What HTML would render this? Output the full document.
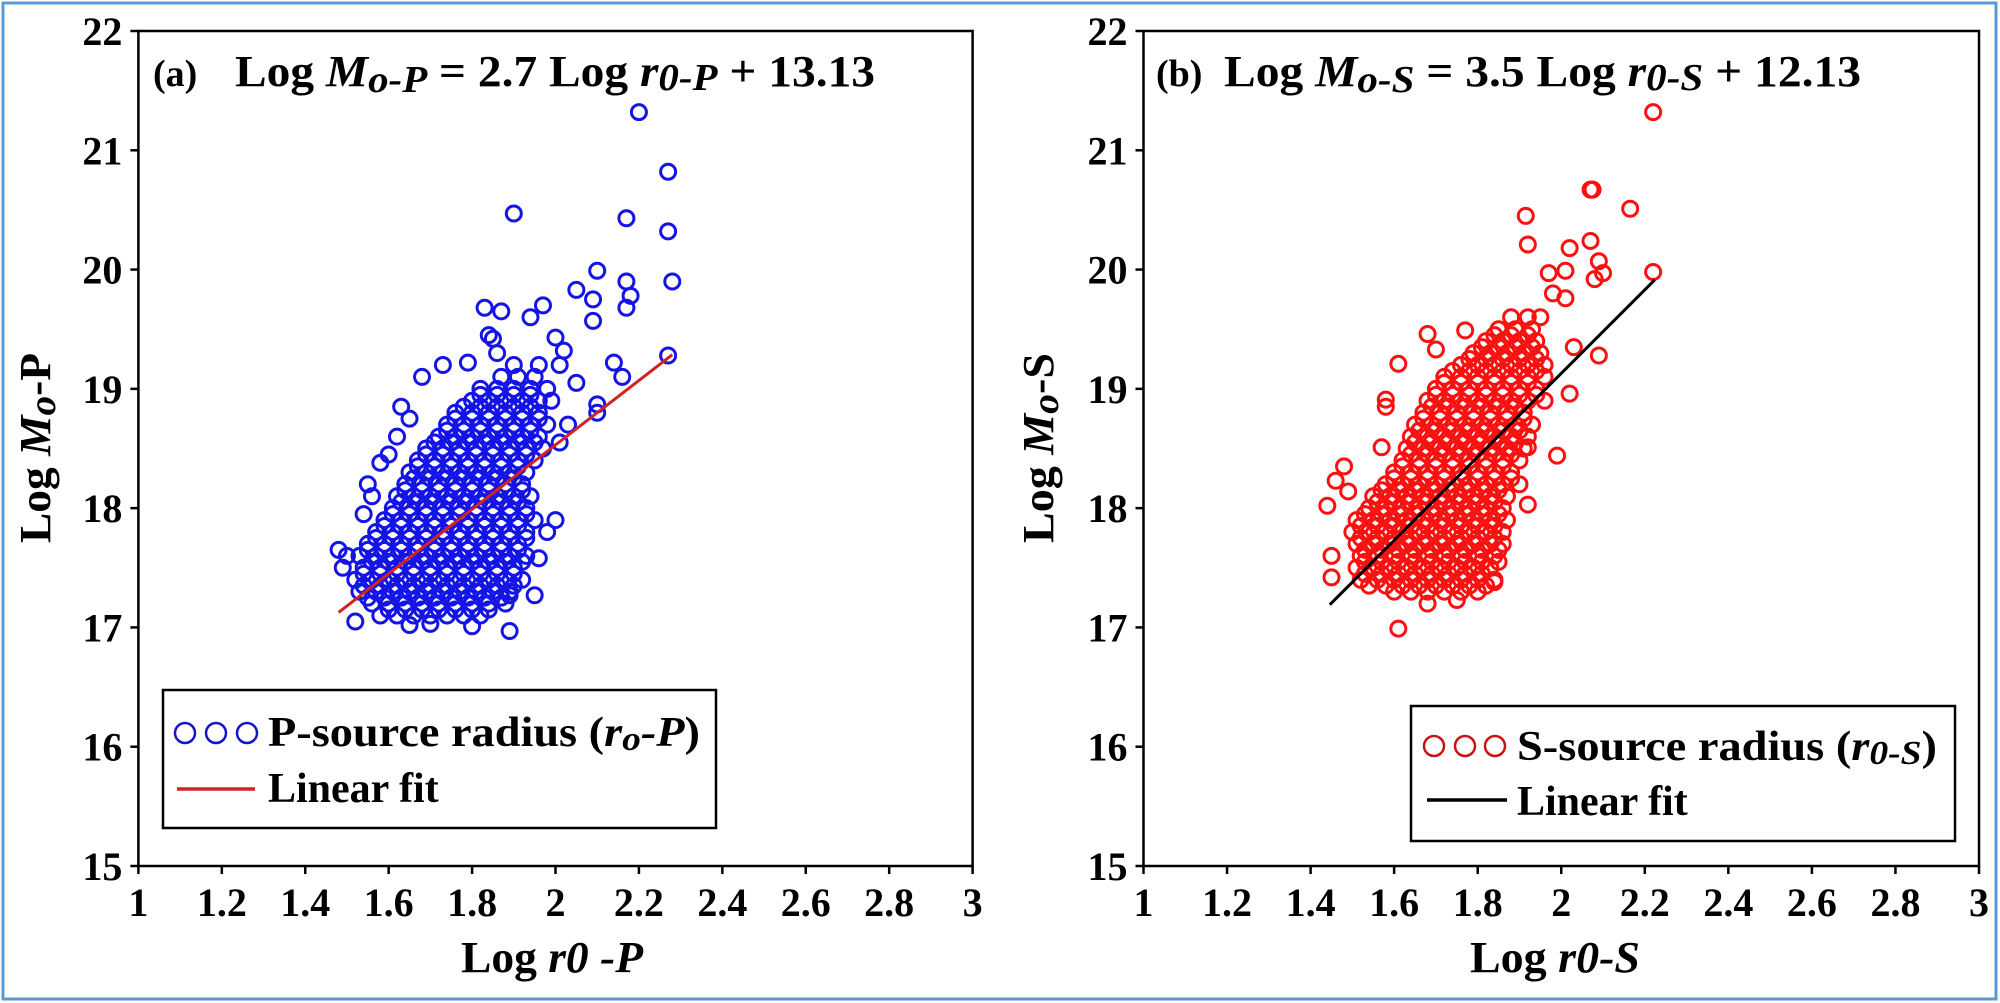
<!DOCTYPE html>
<html><head><meta charset="utf-8"><style>
html,body{margin:0;padding:0;background:#fff;}
svg{display:block;font-family:"Liberation Serif",serif;font-weight:bold;}
</style></head><body>
<svg id="chart" width="2000" height="1003" viewBox="0 0 2000 1003" xmlns="http://www.w3.org/2000/svg">
<rect x="3" y="3" width="1993" height="996" fill="none" stroke="#5b9bd5" stroke-width="3"/>
<g id="panelA"></g>
<g id="panelB"></g>
</svg>
<script>
const xTicks = [1,1.2,1.4,1.6,1.8,2,2.2,2.4,2.6,2.8,3];
const xTickLabels = ["1","1.2","1.4","1.6","1.8","2","2.2","2.4","2.6","2.8","3"];
const yTicks = [15,16,17,18,19,20,21,22];
const yTickLabels = ["15","16","17","18","19","20","21","22"];

// P-source dense core: [y, [x values]]
const coreP = [
[17.1,[1.58,1.62,1.66,1.70,1.74,1.78,1.82]],
[17.15,[1.60,1.64,1.68,1.72,1.76,1.80,1.84]],
[17.2,[1.56,1.60,1.64,1.68,1.72,1.76,1.80,1.84,1.88]],
[17.25,[1.55,1.59,1.63,1.67,1.71,1.75,1.79,1.83,1.87]],
[17.3,[1.53,1.57,1.61,1.65,1.69,1.73,1.77,1.81,1.85,1.89]],
[17.35,[1.54,1.58,1.62,1.66,1.70,1.74,1.78,1.82,1.86,1.90]],
[17.4,[1.52,1.56,1.60,1.64,1.68,1.72,1.76,1.80,1.84,1.88,1.92]],
[17.45,[1.54,1.58,1.62,1.66,1.70,1.74,1.78,1.82,1.86,1.90]],
[17.5,[1.54,1.58,1.62,1.66,1.70,1.74,1.78,1.82,1.86,1.90]],
[17.55,[1.56,1.60,1.64,1.68,1.72,1.76,1.80,1.84,1.88,1.92]],
[17.6,[1.53,1.57,1.61,1.65,1.69,1.73,1.77,1.81,1.85,1.89,1.93]],
[17.65,[1.55,1.59,1.63,1.67,1.71,1.75,1.79,1.83,1.87,1.91]],
[17.7,[1.55,1.59,1.63,1.67,1.71,1.75,1.79,1.83,1.87,1.91]],
[17.75,[1.57,1.61,1.65,1.69,1.73,1.77,1.81,1.85,1.89,1.93]],
[17.8,[1.57,1.61,1.65,1.69,1.73,1.77,1.81,1.85,1.89,1.93]],
[17.85,[1.59,1.63,1.67,1.71,1.75,1.79,1.83,1.87,1.91]],
[17.9,[1.59,1.63,1.67,1.71,1.75,1.79,1.83,1.87,1.91,1.95]],
[17.95,[1.61,1.65,1.69,1.73,1.77,1.81,1.85,1.89,1.93]],
[18.0,[1.61,1.65,1.69,1.73,1.77,1.81,1.85,1.89,1.93]],
[18.05,[1.63,1.67,1.71,1.75,1.79,1.83,1.87,1.91]],
[18.1,[1.62,1.66,1.70,1.74,1.78,1.82,1.86,1.90,1.94]],
[18.15,[1.64,1.68,1.72,1.76,1.80,1.84,1.88,1.92]],
[18.2,[1.64,1.68,1.72,1.76,1.80,1.84,1.88,1.92]],
[18.25,[1.66,1.70,1.74,1.78,1.82,1.86,1.90]],
[18.3,[1.65,1.69,1.73,1.77,1.81,1.85,1.89,1.93]],
[18.35,[1.67,1.71,1.75,1.79,1.83,1.87,1.91]],
[18.4,[1.67,1.71,1.75,1.79,1.83,1.87,1.91,1.95]],
[18.45,[1.69,1.73,1.77,1.81,1.85,1.89,1.93]],
[18.5,[1.69,1.73,1.77,1.81,1.85,1.89,1.93,1.97]],
[18.55,[1.71,1.75,1.79,1.83,1.87,1.91,1.95]],
[18.6,[1.72,1.76,1.80,1.84,1.88,1.92,1.96]],
[18.65,[1.74,1.78,1.82,1.86,1.90,1.94]],
[18.7,[1.74,1.78,1.82,1.86,1.90,1.94,1.98]],
[18.75,[1.76,1.80,1.84,1.88,1.92,1.96]],
[18.8,[1.76,1.80,1.84,1.88,1.92,1.96]],
[18.85,[1.78,1.82,1.86,1.90,1.94]],
[18.9,[1.80,1.84,1.88,1.92,1.96,1.99]],
[18.95,[1.82,1.86,1.90,1.94]],
[19.0,[1.82,1.86,1.90,1.94,1.98]],
[19.1,[1.87,1.91,1.95]],
[19.2,[1.90,1.96,2.01]]
];
const outlierPX = [2.20,2.27,1.90,2.17,2.27,2.10,2.17,2.28,2.18,2.17,2.09,2.05,2.09,2.27,2.14,2.16,2.10,2.10,1.97,1.94,1.83,1.87,1.84,1.85,1.86,2.00,2.02,1.79,1.73,1.68,1.63,1.65,1.62,1.58,1.54,1.56,1.48,1.49,1.50,1.52,1.65,1.70,1.80,1.89,2.00,1.98,1.96,1.95,1.89,2.03,2.05,2.01,1.60,1.55];
const outlierPY = [21.32,20.82,20.47,20.43,20.32,19.99,19.90,19.90,19.78,19.68,19.75,19.83,19.57,19.28,19.22,19.10,18.87,18.80,19.70,19.60,19.68,19.65,19.45,19.42,19.30,19.43,19.32,19.22,19.20,19.10,18.85,18.75,18.60,18.38,17.95,18.10,17.65,17.50,17.60,17.05,17.02,17.03,17.01,16.97,17.90,17.80,17.58,17.27,17.27,18.70,19.05,18.55,18.45,18.20];

// S-source dense core
const coreS = [
[17.3,[1.60,1.64,1.68,1.72,1.76,1.80]],
[17.35,[1.54,1.58,1.62,1.66,1.70,1.74,1.78,1.82]],
[17.4,[1.52,1.56,1.60,1.64,1.68,1.72,1.76,1.80,1.84]],
[17.45,[1.53,1.57,1.61,1.65,1.69,1.73,1.77,1.81]],
[17.5,[1.51,1.55,1.59,1.63,1.67,1.71,1.75,1.79,1.83]],
[17.55,[1.53,1.57,1.61,1.65,1.69,1.73,1.77,1.81,1.85]],
[17.6,[1.52,1.56,1.60,1.64,1.68,1.72,1.76,1.80,1.84]],
[17.65,[1.53,1.57,1.61,1.65,1.69,1.73,1.77,1.81,1.85]],
[17.7,[1.51,1.55,1.59,1.63,1.67,1.71,1.75,1.79,1.83,1.86]],
[17.75,[1.52,1.56,1.60,1.64,1.68,1.72,1.76,1.80,1.84]],
[17.8,[1.50,1.54,1.58,1.62,1.66,1.70,1.74,1.78,1.82,1.86]],
[17.85,[1.52,1.56,1.60,1.64,1.68,1.72,1.76,1.80,1.84]],
[17.9,[1.51,1.55,1.59,1.63,1.67,1.71,1.75,1.79,1.83,1.87]],
[17.95,[1.53,1.57,1.61,1.65,1.69,1.73,1.77,1.81,1.85]],
[18.0,[1.54,1.58,1.62,1.66,1.70,1.74,1.78,1.82,1.86]],
[18.05,[1.56,1.60,1.64,1.68,1.72,1.76,1.80,1.84]],
[18.1,[1.55,1.59,1.63,1.67,1.71,1.75,1.79,1.83,1.87]],
[18.15,[1.57,1.61,1.65,1.69,1.73,1.77,1.81,1.85]],
[18.2,[1.58,1.62,1.66,1.70,1.74,1.78,1.82,1.86,1.90]],
[18.25,[1.60,1.64,1.68,1.72,1.76,1.80,1.84,1.88]],
[18.3,[1.60,1.64,1.68,1.72,1.76,1.80,1.84,1.88]],
[18.35,[1.62,1.66,1.70,1.74,1.78,1.82,1.86]],
[18.4,[1.62,1.66,1.70,1.74,1.78,1.82,1.86,1.90]],
[18.45,[1.64,1.68,1.72,1.76,1.80,1.84,1.88]],
[18.5,[1.63,1.67,1.71,1.75,1.79,1.83,1.87,1.91]],
[18.55,[1.65,1.69,1.73,1.77,1.81,1.85,1.89]],
[18.6,[1.64,1.68,1.72,1.76,1.80,1.84,1.88,1.92]],
[18.65,[1.66,1.70,1.74,1.78,1.82,1.86,1.90]],
[18.7,[1.65,1.69,1.73,1.77,1.81,1.85,1.89,1.93]],
[18.75,[1.67,1.71,1.75,1.79,1.83,1.87,1.91]],
[18.8,[1.67,1.71,1.75,1.79,1.83,1.87,1.91]],
[18.85,[1.69,1.73,1.77,1.81,1.85,1.89]],
[18.9,[1.68,1.72,1.76,1.80,1.84,1.88,1.92,1.96]],
[18.95,[1.70,1.74,1.78,1.82,1.86,1.90,1.94]],
[19.0,[1.70,1.74,1.78,1.82,1.86,1.90,1.94]],
[19.05,[1.72,1.76,1.80,1.84,1.88,1.92]],
[19.1,[1.72,1.76,1.80,1.84,1.88,1.92,1.96]],
[19.15,[1.74,1.78,1.82,1.86,1.90,1.94]],
[19.2,[1.76,1.80,1.84,1.88,1.92,1.96]],
[19.25,[1.78,1.82,1.86,1.90,1.94]],
[19.3,[1.79,1.83,1.87,1.91,1.95]],
[19.35,[1.81,1.85,1.89,1.93]],
[19.4,[1.82,1.86,1.90,1.94]],
[19.45,[1.84,1.88,1.92]],
[19.5,[1.85,1.89,1.93]],
[19.6,[1.88,1.92]]
];
const outlierSX = [2.22,2.07,2.075,2.165,1.915,1.92,2.07,2.02,2.22,2.09,2.10,2.08,1.97,2.01,2.01,2.09,2.02,1.99,1.92,1.92,1.44,1.46,1.48,1.61,1.68,1.77,1.70,1.58,1.58,1.57,1.61,1.68,1.75,1.84,1.45,1.45,1.49,2.03,1.98,1.95];
const outlierSY = [21.32,20.67,20.67,20.51,20.45,20.21,20.24,20.18,19.98,20.07,19.97,19.92,19.97,19.99,19.76,19.28,18.96,18.44,18.51,18.03,18.02,18.23,18.35,19.21,19.46,19.49,19.33,18.91,18.85,18.51,16.99,17.20,17.23,17.38,17.42,17.60,18.14,19.35,19.80,19.60];

const fitPX = [1.48,2.28]; const fitPSlope = 2.7; const fitPIntercept = 13.13;
const fitSX = [1.446,2.224]; const fitSSlope = 3.5; const fitSIntercept = 12.13;

const NS = "http://www.w3.org/2000/svg";
function mk(tag, parent, attrs){
  const e = document.createElementNS(NS, tag);
  for (const k in attrs) e.setAttribute(k, attrs[k]);
  parent.appendChild(e);
  return e;
}

function drawPanel(g, cfg){
  const x0 = cfg.left, x1 = cfg.right, yTop = 31, yBot = 866;
  const sx = v => x0 + (v - 1) / 2 * (x1 - x0);
  const sy = v => yBot - (v - 15) / 7 * (yBot - yTop);

  const pts = mk('g', g, {});
  
  
  const addPt = (x, y) => {
    const c = mk('circle', pts, {cx: sx(x), cy: sy(y), r: 7.5, fill: 'none', stroke: cfg.color, 'stroke-width': 3});
    
    
  };
  cfg.core.forEach(row => row[1].forEach(x => addPt(x, row[0])));
  cfg.ox.forEach((x, i) => addPt(x, cfg.oy[i]));

  const fl = mk('line', g, {x1: sx(cfg.fitX[0]), y1: sy(cfg.slope*cfg.fitX[0]+cfg.intercept),
    x2: sx(cfg.fitX[1]), y2: sy(cfg.slope*cfg.fitX[1]+cfg.intercept), stroke: cfg.fitColor, 'stroke-width': 3});
  
  

  const fr = mk('rect', g, {x: x0, y: yTop, width: x1 - x0, height: yBot - yTop, fill: 'none', stroke: '#000', 'stroke-width': 2.5});
  
  

  xTicks.forEach((v, i) => {
    const t = mk('line', g, {x1: sx(v), x2: sx(v), y1: yBot, y2: yBot + 8, stroke: '#000', 'stroke-width': 2.5});
    
    
    const l = mk('text', g, {x: sx(v), y: 916, 'text-anchor': 'middle', 'font-size': 40});
    l.textContent = xTickLabels[i];
    
    
  });
  yTicks.forEach((v, i) => {
    const t = mk('line', g, {x1: x0 - 8, x2: x0, y1: sy(v), y2: sy(v), stroke: '#000', 'stroke-width': 2.5});
    
    
    const l = mk('text', g, {x: x0 - 16, y: sy(v) + 14, 'text-anchor': 'end', 'font-size': 40});
    l.textContent = yTickLabels[i];
    
    
  });
}

const A = document.getElementById('panelA');
const B = document.getElementById('panelB');
drawPanel(A, {key:'panel-a', left:138.4, right:972.6, color:'#1414e6', fitColor:'#d42222', core:coreP, ox:outlierPX, oy:outlierPY, fitX:fitPX, slope:fitPSlope, intercept:fitPIntercept});
drawPanel(B, {key:'panel-b', left:1143.5, right:1979, color:'#ff1010', fitColor:'#000', core:coreS, ox:outlierSX, oy:outlierSY, fitX:fitSX, slope:fitSSlope, intercept:fitSIntercept});
</script>
<svg width="2000" height="1003" viewBox="0 0 2000 1003" style="position:absolute;left:0;top:0;font-family:'Liberation Serif',serif;font-weight:bold;">
  <text x="153" y="86" font-size="38">(a)</text>
  <text x="235" y="86" font-size="44" textLength="640" lengthAdjust="spacingAndGlyphs">Log <tspan font-style="italic">M</tspan><tspan font-style="italic" font-size="38" dy="6">o-P</tspan><tspan dy="-6"> = 2.7 Log </tspan><tspan font-style="italic">r</tspan><tspan font-style="italic" font-size="38" dy="4">0-P</tspan><tspan dy="-4"> + 13.13</tspan></text>
  <text transform="translate(50,448) rotate(-90)" text-anchor="middle" font-size="44" textLength="190" lengthAdjust="spacingAndGlyphs">Log <tspan font-style="italic">M</tspan><tspan font-style="italic" font-size="38" dy="5">o</tspan><tspan dy="-5">-P</tspan></text>
  <text x="552" y="972" text-anchor="middle" font-size="44" textLength="182" lengthAdjust="spacingAndGlyphs">Log <tspan font-style="italic">r0 -P</tspan></text>
  <g>
    <rect x="163" y="690" width="553" height="138" fill="#fff" stroke="#000" stroke-width="2.5"/>
    <circle cx="185" cy="733" r="10" fill="none" stroke="#1414c8" stroke-width="2.5"/>
    <circle cx="216" cy="733" r="10" fill="none" stroke="#1414c8" stroke-width="2.5"/>
    <circle cx="247" cy="733" r="10" fill="none" stroke="#1414c8" stroke-width="2.5"/>
    <text x="268" y="746" font-size="42" textLength="432" lengthAdjust="spacingAndGlyphs">P-source radius (<tspan font-style="italic">r</tspan><tspan font-style="italic" font-size="34" dy="4">o</tspan><tspan font-style="italic" dy="-4">-P</tspan>)</text>
    <line x1="177" y1="789" x2="255" y2="789" stroke="#d42222" stroke-width="3.5"/>
    <text x="268" y="802" font-size="42">Linear fit</text>
  </g>
  <text x="1156" y="86" font-size="38">(b)</text>
  <text x="1224" y="86" font-size="44" textLength="637" lengthAdjust="spacingAndGlyphs">Log <tspan font-style="italic">M</tspan><tspan font-style="italic" font-size="38" dy="6">o-S</tspan><tspan dy="-6"> = 3.5 Log </tspan><tspan font-style="italic">r</tspan><tspan font-style="italic" font-size="38" dy="4">0-S</tspan><tspan dy="-4"> + 12.13</tspan></text>
  <text transform="translate(1053,448) rotate(-90)" text-anchor="middle" font-size="44" textLength="190" lengthAdjust="spacingAndGlyphs">Log <tspan font-style="italic">M</tspan><tspan font-style="italic" font-size="38" dy="5">o</tspan><tspan dy="-5">-S</tspan></text>
  <text x="1555" y="972" text-anchor="middle" font-size="44" textLength="170" lengthAdjust="spacingAndGlyphs">Log <tspan font-style="italic">r0-S</tspan></text>
  <g>
    <rect x="1411" y="706" width="544" height="135" fill="#fff" stroke="#000" stroke-width="2.5"/>
    <circle cx="1434" cy="746" r="10" fill="none" stroke="#c81414" stroke-width="2.5"/>
    <circle cx="1465" cy="746" r="10" fill="none" stroke="#c81414" stroke-width="2.5"/>
    <circle cx="1495" cy="746" r="10" fill="none" stroke="#c81414" stroke-width="2.5"/>
    <text x="1517" y="760" font-size="42" textLength="420" lengthAdjust="spacingAndGlyphs">S-source radius (<tspan font-style="italic">r</tspan><tspan font-style="italic" font-size="34" dy="4">0-S</tspan><tspan dy="-4">)</tspan></text>
    <line x1="1427" y1="800" x2="1507" y2="800" stroke="#000" stroke-width="3.5"/>
    <text x="1517" y="815" font-size="42">Linear fit</text>
  </g>
</svg>
</body></html>
